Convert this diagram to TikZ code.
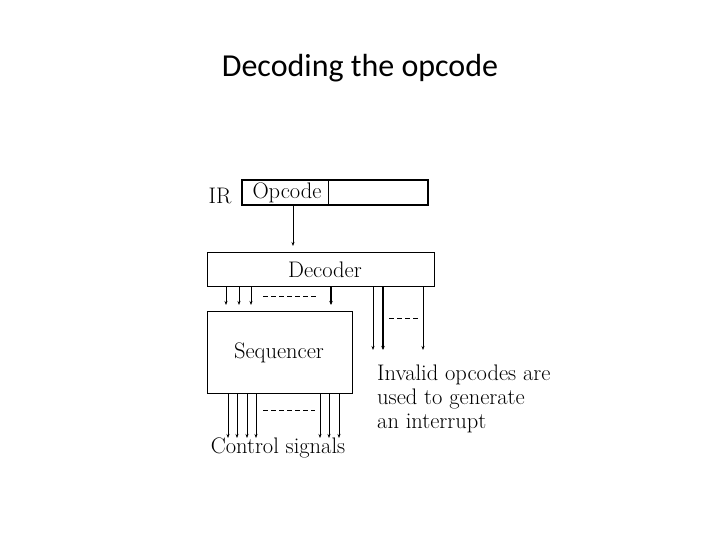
\documentclass[tikz,border=0pt]{standalone}
\usetikzlibrary{arrows.meta}
\usepackage{fontspec}
\newfontfamily\titlefont{Carlito}
\begin{document}
\begin{tikzpicture}[x=1pt,y=-1pt,
  box/.style={draw,line width=0.8pt},
  lab/.style={font=\fontsize{22.5}{24}\selectfont,inner sep=0pt},
  arr/.style={-{Stealth[length=4pt,width=3pt]},line width=0.6pt},
  thk/.style={-{Stealth[length=4pt,width=3.5pt]},line width=1.3pt},
  dsh/.style={dashed,dash pattern=on 5pt off 3pt,line width=0.6pt}]
\useasboundingbox (0,0) rectangle (720,540);
\node[font=\titlefont\fontsize{32}{36}\selectfont] (title) at (360,68) {Decoding the opcode};
\draw[box,line width=1.2pt] (242,180) rectangle (428,205);
\draw[line width=0.8pt] (328,180) -- (328,205);
\node[lab] (ir) at (220,196) {IR};
\node[lab] (op) at (287,193) {Opcode};
\coordinate (opb) at (293,205);
\node[box,minimum width=227pt,minimum height=34pt,inner sep=0pt] (dec) at (320.5,269) {};
\node[lab] at (325,270) {Decoder};
\node[box,minimum width=145pt,minimum height=82pt,inner sep=0pt] (seq) at (279.5,352) {};
\node[lab] at (279,353) {Sequencer};
\draw[arr] (opb) -- (293,246);
\foreach \x in {226,239,251} \draw[arr] (\x,286) -- (\x,305);
\draw[thk] (331,286) -- (331,305);
\draw[dsh] (263,296) -- (318,296);
\draw[arr] (373,286) -- (373,350);
\draw[thk] (383,286) -- (383,350);
\draw[arr] (423,286) -- (423,350);
\draw[dsh] (389,318) -- (418,318);
\foreach \x in {228,237,247,256,320,329,339} \draw[arr] (\x,393) -- (\x,438);
\draw[dsh] (263,410) -- (315,410);
\node[lab] (cs) at (278,448) {Control signals};
\node[lab,anchor=west,align=left,font=\fontsize{22.5}{24}\selectfont] (inv) at (377,399) {Invalid opcodes are\\used to generate\\an interrupt};
\end{tikzpicture}
\end{document}
